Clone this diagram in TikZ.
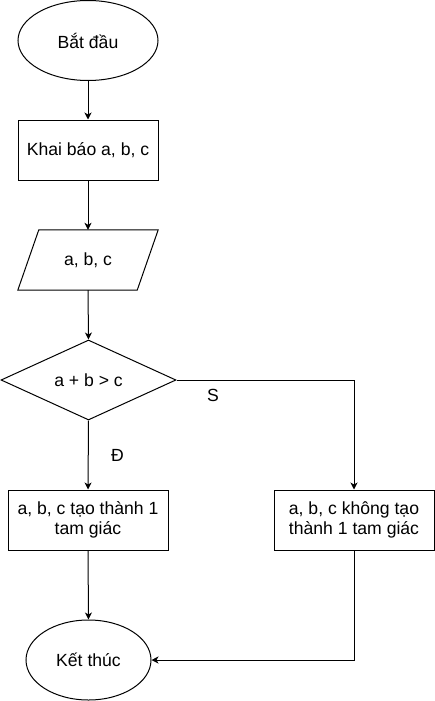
\documentclass[tikz,border=0pt]{standalone}
\usepackage{fontspec}
\setmainfont{Liberation Sans}
\usetikzlibrary{shapes.geometric,arrows.meta}
\begin{document}
\begin{tikzpicture}[x=1pt,y=-1pt,
  every node/.style={font=\fontsize{17.6}{20.5}\selectfont, inner sep=0pt, align=center},
  term/.style={ellipse, draw, line width=1pt, minimum height=80pt},
  proc/.style={rectangle, draw, line width=1pt, minimum width=160pt, minimum height=60pt},
  dec/.style={diamond, draw, line width=1pt, aspect=2.1875, minimum width=175pt, minimum height=80pt},
  conn/.style={line width=1pt, -{Stealth[length=7pt,width=7pt,inset=2pt]}},
  lab/.style={font=\fontsize{17.6}{20.5}\selectfont}
]
\useasboundingbox (0,0) rectangle (435,701);
\node[term, minimum width=140pt] (start) at (88,40.5) {Bắt đầu};
\node[proc, minimum width=140pt] (decl) at (88,150) {Khai báo a, b, c};
\node[minimum width=140pt, minimum height=60pt] (io) at (88,260) {a, b, c};
\draw[line width=1pt] ([xshift=21pt]io.north west) -- (io.north east) -- ([xshift=-21pt]io.south east) -- (io.south west) -- cycle;
\node[dec] (cond) at (88.5,380) {a + b > c};
\node[proc] (yes) at (88,520) {a, b, c tạo thành 1\\tam giác};
\node[proc] (no) at (354,520) {a, b, c không tạo\\thành 1 tam giác};
\node[term, minimum width=125pt] (stop) at (88.5,660) {Kết thúc};
\draw[conn] (start) -- (decl);
\draw[conn] (decl) -- (io.north);
\draw[conn] (io.south) -- (cond.north);
\draw[conn] (cond.south) -- (yes.north);
\draw[conn] (cond.east) -| (no.north);
\draw[conn] (yes.south) -- (stop.north);
\draw[conn] (no.south) |- (stop.east);
\node[lab] (s) at (213,395) {S};
\node[lab] (d) at (117.5,455) {Đ};
\end{tikzpicture}
\end{document}
